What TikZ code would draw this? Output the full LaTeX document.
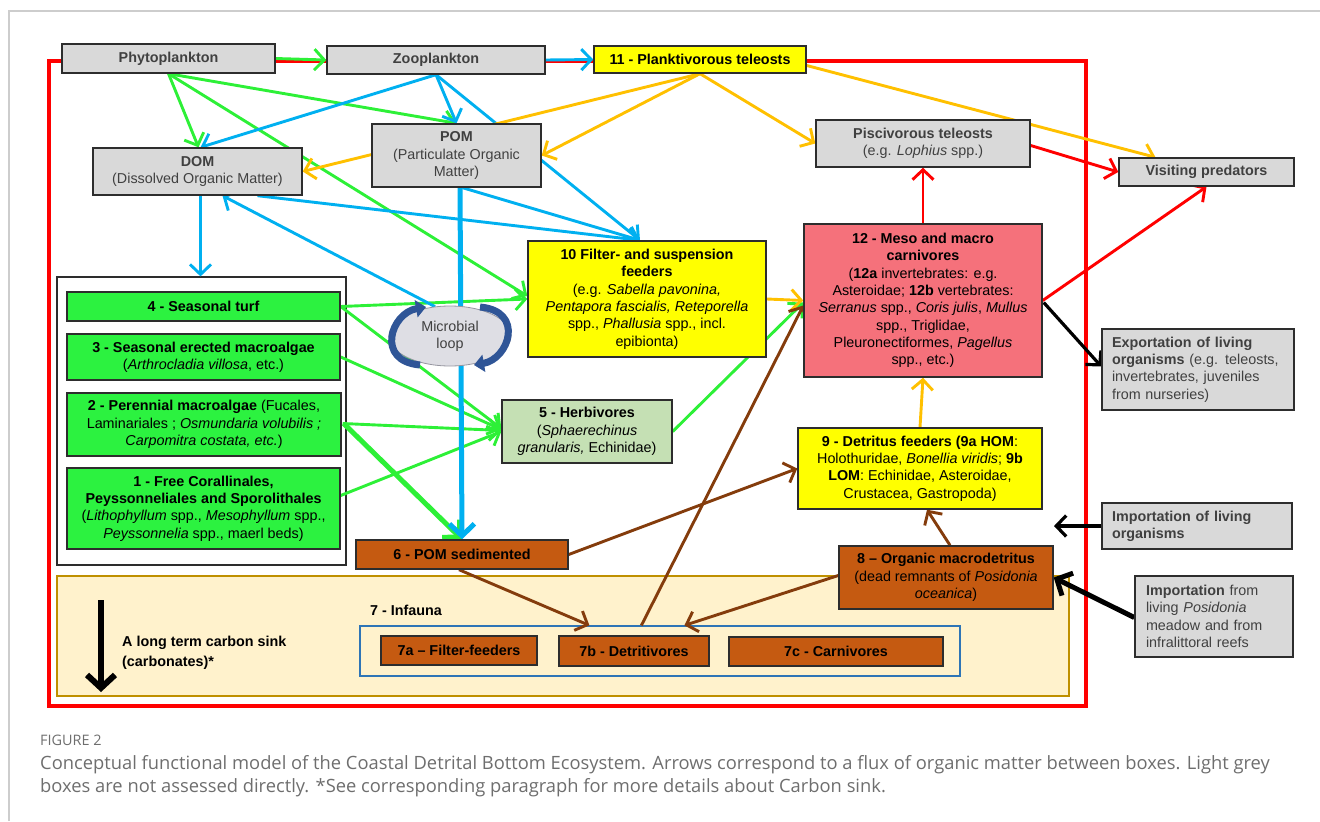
\documentclass[tikz,border=0pt]{standalone}
\usepackage{fontspec}
\setmainfont{Liberation Sans}
\newfontfamily\capfont{Open Sans}
\usetikzlibrary{arrows.meta,calc,shapes.geometric}
\pgfdeclarelayer{back}
\pgfdeclarelayer{bg}
\pgfsetlayers{back,bg,main}
\definecolor{gfill}{RGB}{217,217,217}
\definecolor{gtext}{RGB}{64,64,64}
\definecolor{boxline}{RGB}{45,45,45}
\definecolor{algae}{RGB}{44,242,64}
\definecolor{yel}{RGB}{255,255,0}
\definecolor{salmon}{RGB}{245,113,123}
\definecolor{herb}{RGB}{197,224,180}
\definecolor{brownbox}{RGB}{197,90,17}
\definecolor{beige}{RGB}{255,242,204}
\definecolor{beigeline}{RGB}{191,144,0}
\definecolor{infline}{RGB}{46,117,182}
\definecolor{agreen}{RGB}{45,240,55}
\definecolor{ablue}{RGB}{0,176,240}
\definecolor{aorange}{RGB}{255,192,0}
\definecolor{ared}{RGB}{255,0,0}
\definecolor{abrown}{RGB}{132,60,12}
\definecolor{loopblue}{RGB}{47,85,151}
\definecolor{loopfill}{RGB}{222,222,228}
\definecolor{capgray}{RGB}{110,110,110}
\definecolor{framegray}{RGB}{205,205,205}
\newcommand\fsz{\fontsize{14.4}{17.4}\selectfont}
\begin{document}
\begin{tikzpicture}[x=1bp,y=-1bp,
  wh/.style 2 args={minimum width=#1bp, minimum height=#2bp},
  box/.style={draw=boxline, line width=1.4bp, inner sep=0pt, align=center, font=\fsz},
  gbox/.style={box, fill=gfill, text=gtext},
  ybox/.style={box, fill=yel},
  abox/.style={box, fill=algae},
  bbox/.style={box, fill=brownbox},
  lpad/.style={align=left, inner xsep=10bp},
  arr/.style={line width=2.9bp, -{Straight Barb[length=10bp,width=21bp]}},
  arrw/.style={line width=5bp, -{Straight Barb[length=12bp,width=25bp]}},
  lbl/.style={inner sep=0pt, font=\fsz\bfseries}
]
\useasboundingbox (0,0) rectangle (1320,821);

% ---------- background shapes ----------
\begin{pgfonlayer}{back}
\draw[framegray, line width=1.5bp] (9,821) -- (9,11) -- (1320,11);
\node[draw=ared, line width=3.5bp, wh={1037}{645}] (redframe) at (567.5,383.5) {};
\node[draw=beigeline, fill=beige, line width=1.2bp, wh={1012}{120}] (beige) at (563,636) {};
\node[draw=infline, line width=1.2bp, wh={600}{50}] (inf) at (660,651) {};
\node[draw=boxline, fill=white, line width=1.2bp, wh={289}{288}] (grp) at (201.5,421) {};
\end{pgfonlayer}

% ---------- boxes ----------
\node[gbox, wh={213}{29}] (phyto) at (168.5,58.5) {\textbf{Phytoplankton}};
\node[gbox, wh={218}{28}] (zoo) at (436,60) {\textbf{Zooplankton}};
\node[ybox, wh={212}{27}] (p11) at (700,59.5) {\textbf{11 - Planktivorous teleosts}};
\node[gbox, wh={209}{47}] (dom) at (197.5,171.5) {\textbf{DOM}\\(Dissolved Organic Matter)};
\node[gbox, wh={169}{63}] (pom) at (456.5,155.5) {\textbf{POM}\\(Particulate Organic\\Matter)};
\node[gbox, wh={214}{47}] (pisc) at (923,143.5) {\textbf{Piscivorous teleosts}\\(e.g. \textit{Lophius} spp.)};
\node[gbox, wh={175}{28}] (visit) at (1206.5,172) {\textbf{Visiting predators}};
\node[ybox, wh={238}{116}] (f10) at (647,299) {\textbf{10 Filter- and suspension}\\\textbf{feeders}\\(e.g. \textit{Sabella pavonina,}\\\textit{Pentapora fascialis, Reteporella}\\spp., \textit{Phallusia} spp., incl.\\epibionta)};
\node[box, fill=salmon, wh={238}{153}] (m12) at (923,300.5) {\textbf{12 - Meso and macro}\\\textbf{carnivores}\\(\textbf{12a} invertebrates: e.g.\\Asteroidae; \textbf{12b} vertebrates:\\\textit{Serranus} spp., \textit{Coris julis}, \textit{Mullus}\\spp., Triglidae,\\Pleuronectiformes, \textit{Pagellus}\\spp., etc.)};
\node[gbox, lpad, text width=172bp, wh={192}{81}] (exp) at (1198,369.5) {\textbf{Exportation of living}\\\textbf{organisms} (e.g. teleosts,\\invertebrates, juveniles\\from nurseries)};
\node[abox, wh={273}{29}] (a4) at (203.5,306.5) {\textbf{4 - Seasonal turf}};
\node[abox, wh={273}{46}] (a3) at (203.5,357) {\textbf{3 - Seasonal erected macroalgae}\\(\textit{Arthrocladia villosa}, etc.)};
\node[abox, wh={274}{63}] (a2) at (204,424.5) {\textbf{2 - Perennial macroalgae} (Fucales,\\Laminariales ; \textit{Osmundaria volubilis ;}\\\textit{Carpomitra costata, etc.})};
\node[abox, wh={273}{81}] (a1) at (203.5,508.5) {\textbf{1 - Free Corallinales,}\\\textbf{Peyssonneliales and Sporolithales}\\(\textit{Lithophyllum} spp., \textit{Mesophyllum} spp.,\\\textit{Peyssonnelia} spp., maerl beds)};
\node[ellipse, draw={rgb,255:red,150;green,150;blue,160}, line width=0.8bp, fill=loopfill, wh={122}{60}, inner sep=0pt, align=center, font=\fsz, text=gtext] (loop) at (450,336) {Microbial\\loop};
\node[box, fill=herb, wh={170}{63}] (h5) at (587,431.5) {\textbf{5 - Herbivores}\\(\textit{Sphaerechinus}\\\textit{granularis,} Echinidae)};
\node[ybox, wh={244}{81}] (d9) at (920,468.5) {\textbf{9 - Detritus feeders (9a HOM}:\\Holothuridae, \textit{Bonellia viridis}; \textbf{9b}\\\textbf{LOM}: Echinidae, Asteroidae,\\Crustacea, Gastropoda)};
\node[gbox, lpad, text width=170bp, wh={190}{46}] (impl) at (1197,526) {\textbf{Importation of living}\\\textbf{organisms}};
\node[bbox, wh={214}{63}] (m8) at (946,577.5) {\textbf{8 – Organic macrodetritus}\\(dead remnants of \textit{Posidonia}\\\textit{oceanica})};
\node[gbox, align=left, inner xsep=11bp, text width=136bp, wh={158}{81}] (impf) at (1214,616.5) {\textbf{Importation} from\\living \textit{Posidonia}\\meadow and from\\infralittoral reefs};
\node[bbox, wh={212}{29}] (s6) at (462,554.5) {\textbf{6 - POM sedimented}};
\node[bbox, wh={156}{29}] (i7a) at (459,650.5) {\textbf{7a – Filter-feeders}};
\node[bbox, wh={150}{30}] (i7b) at (634,651) {\textbf{7b - Detritivores}};
\node[bbox, wh={214}{29}] (i7c) at (836,651.5) {\textbf{7c - Carnivores}};

\node[lbl, anchor=west] (inflab) at (370,610) {7 - Infauna};
\node[lbl, anchor=west, align=left] (sinklab) at (122,653) {A long term carbon sink\\[2.6bp](carbonates)*};
\coordinate (sinkT) at (101,600);
\coordinate (sinkB) at (101,692);
\coordinate (implEnd) at (1054,526);

% microbial loop arrows
\draw[loopblue, line width=7bp, -{Triangle[width=17bp,length=10bp]}] ($(loop.center)+(-30,29)$) .. controls +(-45,-4) and +(-35,6) .. ($(loop.center)+(-24,-29)$);
\draw[loopblue, line width=7bp, -{Triangle[width=17bp,length=10bp]}] ($(loop.center)+(30,-29)$) .. controls +(45,4) and +(35,-6) .. ($(loop.center)+(24,29)$);

% ---------- connectors ----------
\begin{pgfonlayer}{bg}
% green
\draw[arr,agreen] (phyto.east) -- (zoo.west);
\draw[arr,agreen] (phyto.south) -- ($(dom.north)+(1,0)$);
\draw[arr,agreen] (phyto.south) -- (pom.north);
\draw[arr,agreen] (phyto.south) -- ($(f10.west)+(0,-3)$);
\draw[arr,agreen] (a4.east) -- (f10.west);
\draw[arr,agreen] (a4.east) -- ($(h5.west)+(0,-3)$);
\draw[arr,agreen] (a3.east) -- ($(h5.west)+(0,-2)$);
\draw[arr,agreen] ($(a2.east)+(1,-1)$) -- ($(h5.west)+(0,-1)$);
\draw[arr,agreen] ($(a1.east)+(0,-13)$) -- (h5.west);
\draw[arrw,agreen] ($(a2.east)+(2,-1)$) -- (s6.north);
\draw[arr,agreen] (h5.east) -- ($(m12.west)+(0,2)$);
% blue
\draw[arr,ablue] (zoo.east) -- (p11.west);
\draw[arr,ablue] (zoo.south) -- ($(dom.north)+(3,0)$);
\draw[arr,ablue] (zoo.south) -- (pom.north);
\draw[arr,ablue] (zoo.south) -- ($(f10.north)+(-7,0)$);
\draw[arr,ablue] ($(pom.south)+(6,0)$) -- ($(f10.north)+(-7,0)$);
\draw[arr,ablue] ($(dom.south)+(60,0)$) -- ($(f10.north)+(-7,0)$);
\draw[arr,ablue] ($(loop.north)+(-15,1)$) -- ($(dom.south)+(25,0)$);
\draw[arr,ablue] ($(dom.south)+(3,0)$) -- ($(grp.north)+(-1,0)$);
\draw[arrw,ablue] ($(pom.south)+(3.5,0)$) -- (s6.north);
% orange
\draw[arr,aorange] (p11.south) -- (pom.east);
\draw[arr,aorange] (p11.south) -- (pisc.west);
\draw[arr,aorange] (p11.south) -- (dom.east);
\draw[arr,aorange] ($(p11.east)+(0,6)$) -- ($(visit.north)+(-51,0)$);
\draw[arr,aorange] (f10.east) -- (m12.west);
\draw[arr,aorange] (d9.north) -- (m12.south);
% red
\draw[arr,ared] ($(pisc.east)+(0,2)$) -- (visit.west);
\draw[arr,ared] (m12.north) -- (pisc.south);
\draw[arr,ared] (m12.east) -- (visit.south);
% black
\draw[arr,black,line width=3.2bp] ($(m12.east)+(1,2)$) -- ($(exp.west)+(0,-3)$);
\draw[arr,black,line width=3.2bp] (impl.west) -- (implEnd);
\draw[arrw,black] ($(impf.west)+(0,1)$) -- (m8.east);
\draw[black, line width=6bp, -{Straight Barb[length=13bp,width=28bp]}] (sinkT) -- (sinkB);
% brown
\draw[arr,abrown] (s6.east) -- (d9.west);
\draw[arr,abrown] ($(s6.south)+(-3,0)$) -- ($(inf.north west)+(230,0)$);
\draw[arr,abrown] ($(inf.north west)+(282,0)$) -- ($(m12.west)+(0,5)$);
\draw[arr,abrown] ($(m8.west)+(0,-2)$) -- ($(inf.north west)+(325,0)$);
\draw[arr,abrown] ($(m8.north)+(4,0)$) -- ($(d9.south)+(7,0)$);
\end{pgfonlayer}

% ---------- caption ----------
\node[anchor=base west, inner sep=0pt, font=\capfont\fontsize{14.5}{16}\selectfont, text=capgray] (cap0) at (40,745) {FIGURE 2};
\node[anchor=base west, inner sep=0pt, font=\capfont\fontsize{18.4}{21}\selectfont, text=capgray] (cap1) at (40,769) {Conceptual functional model of the Coastal Detrital Bottom Ecosystem. Arrows correspond to a flux of organic matter between boxes. Light grey};
\node[anchor=base west, inner sep=0pt, font=\capfont\fontsize{18.4}{21}\selectfont, text=capgray] (cap2) at (40,792) {boxes are not assessed directly. *See corresponding paragraph for more details about Carbon sink.};
\end{tikzpicture}
\end{document}
